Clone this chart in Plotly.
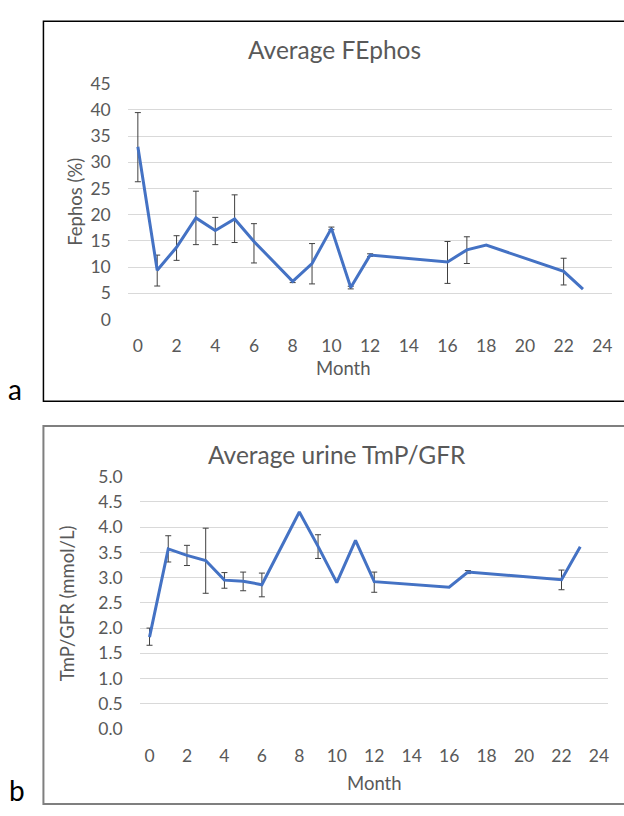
import plotly.graph_objects as go

# Panel a: FEphos (%)  (None = no error bar drawn)
months_a = [0, 1, 2, 3, 4, 5, 6, 8, 9, 10, 11, 12, 16, 17, 18, 22, 23]
fephos = [33.0, 9.4, 13.8, 19.4, 17.0, 19.2, 14.9, 7.3, 10.7, 17.4, 6.1, 12.3, 11.0, 13.3, 14.2, 9.2, 5.8]
fephos_up = [6.5, 2.9, 2.2, 5.1, 2.5, 4.6, 3.4, 0.25, 3.8, 0.25, 0.25, 0.25, 3.9, 2.5, None, 2.5, None]
fephos_dn = [6.7, 3.0, 2.5, 5.1, 2.7, 4.5, 4.1, 0.25, 3.9, 0.25, 0.25, 0.25, 4.1, 2.6, None, 2.6, None]

# Panel b: TmP/GFR (mmol/L)
months_b = [0, 1, 2, 3, 4, 5, 6, 8, 9, 10, 11, 12, 16, 17, 22, 23]
tmp_gfr = [1.82, 3.57, 3.44, 3.34, 2.95, 2.93, 2.86, 4.30, 3.62, 2.90, 3.74, 2.92, 2.81, 3.11, 2.96, 3.61]
tmp_up = [0.18, 0.26, 0.20, 0.64, 0.15, 0.18, 0.23, None, 0.23, None, None, 0.19, None, 0.03, 0.19, None]
tmp_dn = [0.16, 0.26, 0.20, 0.65, 0.16, 0.19, 0.24, None, 0.24, None, None, 0.21, None, 0.03, 0.20, None]

x_ticks = list(range(0, 25, 2))
ya_ticks = list(range(0, 46, 5))
yb_ticks = [i * 0.5 for i in range(11)]

W, H = 624, 816
FONT = "Lato, Open Sans, sans-serif"
GREY = "#595959"
BLUE = "#4472C4"
GRID = "#D9D9D9"
TICK = 17.5


def px(x):
    return x / W


def py(y):
    return 1 - y / H


def with_err(xs, ys, up, dn):
    keep = [i for i in range(len(xs)) if up[i] is not None]
    return ([xs[i] for i in keep], [ys[i] for i in keep],
            [up[i] for i in keep], [dn[i] for i in keep])


fig = go.Figure()
err_style = dict(type="data", symmetric=False, color="#404040", thickness=1, width=3)

for xs, ys, up, dn, xa, ya in [(months_a, fephos, fephos_up, fephos_dn, "x", "y"),
                               (months_b, tmp_gfr, tmp_up, tmp_dn, "x2", "y2")]:
    ex, ey, eu, ed = with_err(xs, ys, up, dn)
    fig.add_trace(go.Scatter(
        x=ex, y=ey, mode="markers", marker=dict(size=1, opacity=0),
        error_y=dict(array=eu, arrayminus=ed, **err_style),
        xaxis=xa, yaxis=ya, showlegend=False, hoverinfo="skip"))
    fig.add_trace(go.Scatter(
        x=xs, y=ys, mode="lines", line=dict(color=BLUE, width=3),
        xaxis=xa, yaxis=ya, showlegend=False))

common_x = dict(range=[-0.52, 24.5], tickvals=x_ticks, showgrid=False, zeroline=False,
                showline=False, ticks="", tickfont=dict(size=TICK, color=GREY, family=FONT),
                ticklabelstandoff=14)
common_y = dict(showgrid=True, gridcolor=GRID, gridwidth=1.3, zeroline=False, showline=False,
                ticks="", tickfont=dict(size=TICK, color=GREY, family=FONT), ticklabelstandoff=16)

fig.update_layout(
    width=W, height=H, margin=dict(l=0, r=0, t=0, b=0),
    paper_bgcolor="white", plot_bgcolor="white",
    xaxis=dict(domain=[px(128), px(613)], anchor="y", **common_x),
    yaxis=dict(domain=[py(316.7), py(74.7)], anchor="x", range=[0, 45], tickvals=ya_ticks, **common_y),
    xaxis2=dict(domain=[px(140), px(609.3)], anchor="y2", **common_x),
    yaxis2=dict(domain=[py(737), py(478)], anchor="x2", range=[0, 5], tickvals=yb_ticks,
                tickformat=".1f", **common_y),
)

R = px(700)
shapes = [
    # panel frames (top, left, bottom; right side runs off the page)
    dict(type="path", xref="paper", yref="paper",
         path=f"M {R},{py(10.5)} L {px(43.5)},{py(10.5)} L {px(43.5)},{py(400.5)} L {R},{py(400.5)}",
         line=dict(color="black", width=1.5)),
    dict(type="path", xref="paper", yref="paper",
         path=f"M {R},{py(426)} L {px(43.5)},{py(426)} L {px(43.5)},{py(814)} L {R},{py(814)}",
         line=dict(color="#7F7F7F", width=2)),
]
fig.update_layout(shapes=shapes)

ann = [
    dict(text="Average FEphos", x=px(335), y=py(40), font=dict(size=24.5, color=GREY, family=FONT)),
    dict(text="Average urine TmP/GFR", x=px(338), y=py(455), font=dict(size=24.5, color=GREY, family=FONT)),
    dict(text="Month", x=px(344), y=py(366), font=dict(size=18.5, color=GREY, family=FONT)),
    dict(text="Month", x=px(375), y=py(792), font=dict(size=18.5, color=GREY, family=FONT)),
    dict(text="Fephos (%)", x=px(75), y=py(196), textangle=-90, font=dict(size=18.5, color=GREY, family=FONT)),
    dict(text="TmP/GFR (mmol/L)", x=px(67), y=py(608), textangle=-90, font=dict(size=18.5, color=GREY, family=FONT)),
    dict(text="a", x=px(15), y=py(388), font=dict(size=28, color="black", family=FONT)),
    dict(text="b", x=px(17), y=py(800), font=dict(size=28, color="black", family=FONT)),
]
for a in ann:
    a.update(xref="paper", yref="paper", showarrow=False, xanchor="center", yanchor="middle")
fig.update_layout(annotations=ann)

pin = ("document.documentElement.style.margin='0';document.body.style.margin='0';"
       "var d=document.getElementById('{plot_id}');d.style.position='fixed';"
       "d.style.top='0px';d.style.left='0px';")
fig.write_html("out.html", config={"displayModeBar": False}, post_script=pin)
